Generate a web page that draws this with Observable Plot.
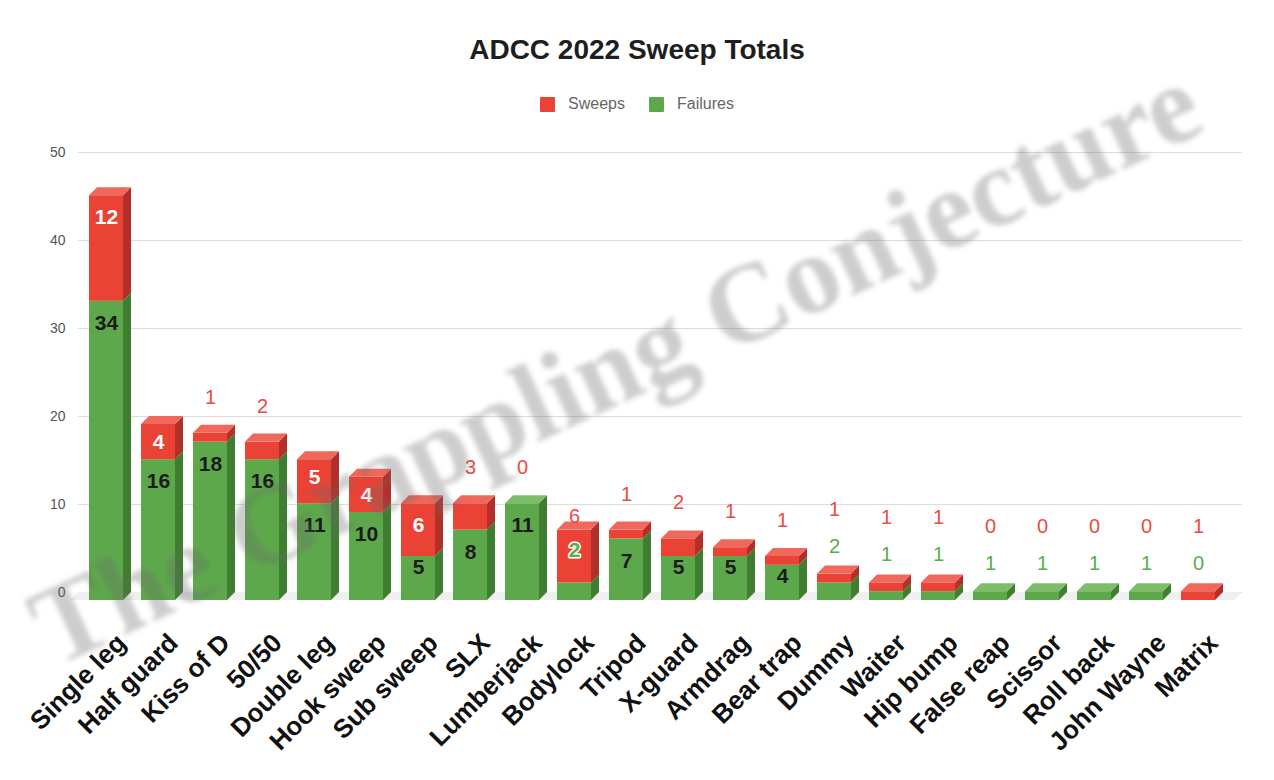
<!DOCTYPE html>
<html>
<head>
<meta charset="utf-8">
<script src="https://cdn.jsdelivr.net/npm/d3@7"></script>
<script src="https://cdn.jsdelivr.net/npm/@observablehq/plot@0.6"></script>
<style>
  body { margin: 0; background: #fff; width: 1274px; height: 780px; overflow: hidden; position: relative;
         font-family: "Liberation Sans", Arial, sans-serif; }
  #title { position: absolute; top: 34px; left: 0; width: 1274px; text-align: center;
           font-weight: bold; font-size: 28px; color: #1e1e1e; }
  #legend { position: absolute; top: 95px; left: 0; width: 1274px; display: flex; justify-content: center;
            align-items: center; font-size: 16px; color: #666; }
  #legend .item { display: flex; align-items: center; margin: 0 12px; }
  #legend .sw { width: 15px; height: 15px; margin-right: 13px; border-radius: 1px; }
  #chart { position: absolute; top: 130px; left: 0; }
  #wm { position: absolute; top: 0; left: 0; pointer-events: none; }
</style>
</head>
<body>
<div id="title">ADCC 2022 Sweep Totals</div>
<div id="legend"></div>
<div id="chart"></div>
<svg id="wm" width="1274" height="780">
  <defs><filter id="blur"><feGaussianBlur stdDeviation="2.6"/></filter></defs>
  <text x="54" y="668" transform="rotate(-25 54 668)"
        font-family="'Liberation Serif', serif" font-weight="bold" font-size="112" fill="#6a6a6a" opacity="0.33" filter="url(#blur)">The Grappling Conjecture</text>
</svg>
<script>
const techniques = ["Single leg", "Half guard", "Kiss of D", "50/50", "Double leg", "Hook sweep", "Sub sweep",
  "SLX", "Lumberjack", "Bodylock", "Tripod", "X-guard", "Armdrag", "Bear trap", "Dummy", "Waiter",
  "Hip bump", "False reap", "Scissor", "Roll back", "John Wayne", "Matrix"];
const sweeps   = [12, 4, 1, 2, 5, 4, 6, 3, 0, 6, 1, 2, 1, 1, 1, 1, 1, 0, 0, 0, 0, 1];
const failures = [34, 16, 18, 16, 11, 10, 5, 8, 11, 2, 7, 5, 5, 4, 2, 1, 1, 1, 1, 1, 1, 0];
const yTicks = [0, 10, 20, 30, 40, 50];
const seriesNames = ["Sweeps", "Failures"];

const RED = "#ea4335", RED_SIDE = "#b3302a", RED_TOP = "#f0685c";
const GREEN = "#5ea84c", GREEN_SIDE = "#3f7e31", GREEN_TOP = "#7dbd6a";
const RED_TEXT = "#ee4b40", GREEN_TEXT = "#5aad4b";
const DX = 8, DY = -8;
const FONT = '"Liberation Sans", Arial, sans-serif';

// legend
const legend = document.getElementById("legend");
seriesNames.forEach((name, i) => {
  const item = document.createElement("div");
  item.className = "item";
  item.innerHTML = `<div class="sw" style="background:${[RED, GREEN][i]}"></div><span>${name}</span>`;
  legend.appendChild(item);
});

const rows = techniques.flatMap((t, i) => [
  {technique: t, type: "Failures", value: failures[i]},
  {technique: t, type: "Sweeps", value: sweeps[i]}
]);
const bars = techniques.map((t, i) => ({technique: t, f: failures[i], s: sweeps[i], total: failures[i] + sweeps[i]}));

const sweepsInBig = bars.filter(b => b.s >= 6 && b.f >= 4);
const sweepsInSmall = bars.filter(b => b.s >= 4 && b.s < 6 && b.f >= 4);
const failBig = bars.filter(b => b.f >= 6);
const failSmall = bars.filter(b => b.f >= 4 && b.f < 6);
const redOnlyOut = bars.filter(b => b.s < 4 && b.f >= 4);
const bothOut = bars.filter(b => b.s < 4 && b.f < 4);
const special = bars.filter(b => b.s >= 4 && b.f < 4);

const plot = Plot.plot({
  width: 1274, height: 650,
  marginTop: 30, marginBottom: 180, marginLeft: 70, marginRight: 40,
  x: {domain: techniques, padding: 0.35, axis: null},
  y: {domain: [0, 50], axis: null},
  color: {domain: seriesNames, range: [RED, GREEN]},
  style: {fontFamily: FONT, background: "transparent", overflow: "visible"},
  marks: [
    Plot.ruleY(yTicks.filter(d => d > 0), {dx: DX, dy: DY, stroke: "#dcdcdc", strokeWidth: 1.2}),
    Plot.ruleY([0], {dx: DX, dy: DY, stroke: "#bdbdbd", strokeWidth: 1.2}),
    Plot.text(yTicks, {frameAnchor: "left", y: d => d, text: d => String(d), dx: -5, dy: DY,
      textAnchor: "end", fontSize: 14, fill: "#555"}),
    Plot.barY(rows, {x: "technique", y: "value", fill: "type", order: ["Failures", "Sweeps"]}),
    // inside labels
    Plot.text(sweepsInBig, {x: "technique", y: "total", text: "s", dy: 22, fill: "white", fontWeight: "bold", fontSize: 21}),
    Plot.text(sweepsInSmall, {x: "technique", y: "total", text: "s", dy: 18, fill: "white", fontWeight: "bold", fontSize: 21}),
    Plot.text(failBig, {x: "technique", y: "f", text: "f", dy: 22, fill: "#1b1b1b", fontWeight: "bold", fontSize: 21}),
    Plot.text(failSmall, {x: "technique", y: "f", text: "f", dy: 11, fill: "#1b1b1b", fontWeight: "bold", fontSize: 21}),
    // outside labels
    Plot.text(redOnlyOut, {x: "technique", y: "total", text: "s", dy: -36, fill: RED_TEXT, fontSize: 20}),
    Plot.text(bothOut, {x: "technique", y: "total", text: "f", dy: -28, fill: GREEN_TEXT, fontSize: 20}),
    Plot.text(bothOut, {x: "technique", y: "total", text: "s", dy: -65, fill: RED_TEXT, fontSize: 20}),
    Plot.text(special, {x: "technique", y: "total", text: "s", dy: -14, fill: RED_TEXT, fontSize: 20}),
    Plot.text(special, {x: "technique", y: b => b.f + b.s / 2, text: "f", dy: -6, fill: GREEN_TEXT,
      stroke: "white", strokeWidth: 3, paintOrder: "stroke", fontWeight: "bold", fontSize: 21}),
    // category labels
    Plot.text(techniques, {x: d => d, frameAnchor: "bottom", text: d => d, rotate: -45,
      textAnchor: "end", lineAnchor: "top", dx: 8, dy: 31, fontSize: 26, fontWeight: "bold", fill: "#111"})
  ]
});
document.getElementById("chart").appendChild(plot);

// 3D faces drawn from the plot's own scales
const sx = plot.scale("x"), sy = plot.scale("y");
let xAt, bw, yAt;
if (sx.apply) { xAt = sx.apply; bw = sx.bandwidth; }
else {
  const b = d3.scaleBand(sx.domain, sx.range).paddingInner(sx.paddingInner ?? sx.padding).paddingOuter(sx.paddingOuter ?? sx.padding).align(sx.align ?? 0.5);
  xAt = b; bw = b.bandwidth();
}
yAt = sy.apply ? sy.apply : d3.scaleLinear(sy.domain, sy.range);

const barG = plot.querySelector('g[aria-label="bar"]');
const [xr0, xr1] = sx.range;
const yBase = yAt(0);
const floor = d3.create("svg:polygon")
  .attr("points", [[xr0, yBase], [xr1, yBase], [xr1 + DX, yBase + DY], [xr0 + DX, yBase + DY]].join(" "))
  .attr("fill", "#efefef");
barG.before(floor.node());

const faces = d3.create("svg:g");
bars.forEach(b => {
  const x0 = xAt(b.technique), x1 = x0 + bw;
  [{lo: 0, hi: b.f, c: GREEN_SIDE}, {lo: b.f, hi: b.total, c: RED_SIDE}].forEach(s => {
    if (s.hi > s.lo) {
      const ya = yAt(s.lo), yb = yAt(s.hi);
      faces.append("polygon")
        .attr("points", [[x1, ya], [x1, yb], [x1 + DX, yb + DY], [x1 + DX, ya + DY]].join(" "))
        .attr("fill", s.c);
    }
  });
  const yt = yAt(b.total);
  faces.append("polygon")
    .attr("points", [[x0, yt], [x1, yt], [x1 + DX, yt + DY], [x0 + DX, yt + DY]].join(" "))
    .attr("fill", b.s > 0 ? RED_TOP : GREEN_TOP);
});
barG.after(faces.node());
</script>
</body>
</html>
